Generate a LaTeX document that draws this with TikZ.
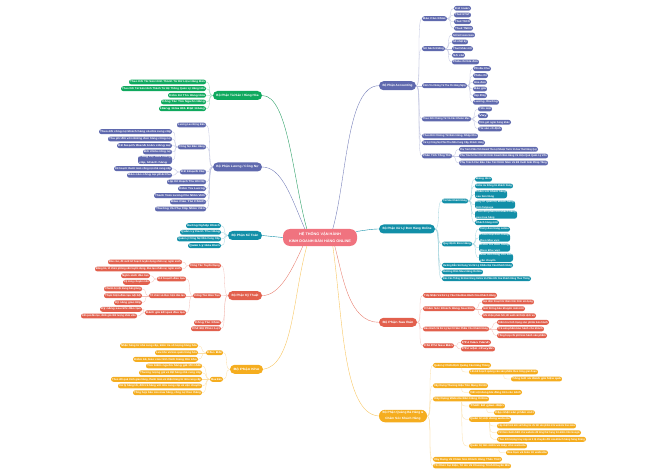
\documentclass[tikz,border=0pt]{standalone}
\usepackage{fontspec}
\usepackage{graphicx}
\setmainfont{Liberation Sans}
\usetikzlibrary{calc}
\definecolor{cG}{HTML}{0FA95E}
\definecolor{cP}{HTML}{5F69AE}
\definecolor{cT}{HTML}{128FA8}
\definecolor{cR}{HTML}{E2604D}
\definecolor{cY}{HTML}{F5AD1F}
\definecolor{cC}{HTML}{F0737F}
\tikzset{
  pillbase/.style={rectangle,rounded corners=2.4pt,inner sep=0pt,text=white,minimum height=4.9pt,font=\fontsize{2.6}{3.1}\selectfont\bfseries},
  twoline/.style={minimum height=8pt},
  rootn/.style={rounded corners=4.5pt,minimum height=9pt,font=\fontsize{3.1}{3.6}\selectfont\bfseries},
  rootb/.style={rounded corners=6pt,minimum height=12.5pt,font=\fontsize{3.1}{3.8}\selectfont\bfseries},
  nG/.style={pillbase,fill=cG},
  nP/.style={pillbase,fill=cP},
  nT/.style={pillbase,fill=cT},
  nR/.style={pillbase,fill=cR},
  nY/.style={pillbase,fill=cY},
  nC/.style={pillbase,fill=cC,rounded corners=7pt,minimum height=17pt,font=\fontsize{3.6}{4.4}\selectfont\bfseries},
  wire/.style={line width=0.3pt},
  wireG/.style={wire,draw=cG!45},
  wireP/.style={wire,draw=cP!40},
  wireT/.style={wire,draw=cT!40},
  wireR/.style={wire,draw=cR!40},
  wireY/.style={wire,draw=cY!40},
  mainwire/.style={line width=0.4pt}
}
\newcommand{\twol}[2]{\shortstack[l]{#1\\#2}}
\newcommand{\twoc}[2]{\shortstack[c]{#1\\#2}}
\newcommand{\nd}[7][2.4]{%
  \pgfmathsetmacro{\pillW}{#5-#4}%
  \pgfmathsetmacro{\pillC}{(#5+#4)/2}%
  \pgfmathsetmacro{\pillTW}{\pillW-#1}%
  \node[#3,minimum width=\pillW pt] (#2) at (\pillC,#6) {\resizebox{\pillTW pt}{\height}{#7}};}
\newcommand{\lkL}[3]{\draw[wire#3] (#1.west) .. controls +(-5.5,0) and +(5.5,0) .. (#2.east);}
\newcommand{\lkR}[3]{\draw[wire#3] (#1.east) .. controls +(5.5,0) and +(-5.5,0) .. (#2.west);}
\newcommand{\lkB}[3]{\path (#2.west) ++(-7,0) coordinate (bend);
  \draw[wire#3] (bend |- #1.south) .. controls (bend) and (bend) .. (#2.west);}
\begin{document}
\begin{tikzpicture}[x=1pt,y=-1pt]
\useasboundingbox (0,0) rectangle (670,476);
% ---- centre
\nd[12]{cen}{nC}{283}{357}{237.5}{\twoc{HỆ THỐNG VẬN HÀNH}{KINH DOANH BÁN HÀNG ONLINE}}
\coordinate (ctA) at ($(cen.north west)+(24,0)$);
\coordinate (ctB) at ($(cen.north west)+(22,0)$);
\coordinate (ctC) at ($(cen.north west)+(50,0)$);
\coordinate (cbA) at ($(cen.south west)+(20,0)$);
\coordinate (cbB) at ($(cen.south west)+(24,0)$);
\coordinate (cbC) at ($(cen.south west)+(50,0)$);
\coordinate (cbD) at ($(cen.south west)+(52,0)$);
\coordinate (crA) at ($(cen.east)+(-1,-6)$);
% ---- left roots
\nd[7]{rG}{nG,rootn}{213}{262}{95.5}{Bộ Phận Tài Sản / Hàng Hóa}
\nd[7]{rP}{nP,rootn}{213}{262}{167}{Bộ Phận Lương / Công Nợ}
\nd[7]{rT}{nT,rootn}{228}{262}{235.5}{Bộ Phận Kế Toán}
\nd[7]{rR}{nR,rootn}{228}{262}{295.6}{Bộ Phận Kỹ Thuật}
\nd[7]{rY}{nY,rootn}{230}{263}{369.3}{Bộ Phận Kho}
% ---- right roots
\nd[7]{rA}{nP,rootn}{379}{416}{85.7}{Bộ Phận Accounting}
\nd[7]{rS}{nT,rootn}{379}{435}{229}{Bộ Phận Xử Lý Đơn Hàng Online}
\nd[7]{rD}{nR,rootn}{379}{417}{322.3}{Bộ Phận Sau Bán}
\nd[7]{rM}{nY,rootb}{379}{427}{416}{\twoc{Bộ Phận Quảng Bá Hàng \&}{Chăm Sóc Khách Hàng}}
% ---- main connectors
\draw[mainwire,draw=cG!75!gray] (rG.east) .. controls +(26,0) and +(-14,-50) .. (ctA);
\draw[mainwire,draw=cP!85] (rP.east) .. controls +(20,0) and +(-13,-30) .. (ctB);
\draw[mainwire,draw=cP!85] (rA.west) .. controls +(-32,0) and +(14,-50) .. (ctC);
\draw[mainwire,draw=cT] (rT.east) -- (cen.west);
\draw[mainwire,draw=cT] (rS.west) .. controls +(-8,0) and +(8,-1) .. (crA);
\draw[mainwire,draw=cR!80] (rR.east) .. controls +(18,0) and +(-10,22) .. (cbA);
\draw[mainwire,draw=cY!70] (rY.east) .. controls +(30,-4) and +(-14,50) .. (cbB);
\draw[mainwire,draw=cY!70] (rM.west) .. controls +(-36,-2) and +(10,70) .. (cbC);
\draw[mainwire,draw=cR!80] (rD.west) .. controls +(-30,0) and +(8,30) .. (cbD);
% ---- green
\nd{g1}{nG}{129}{206}{82}{Theo Dõi Tài Sản Hình Thành Từ Dữ Liệu Hàng Bán}
\nd{g2}{nG}{121}{206}{88.7}{Theo Dõi Tài Sản Hình Thành Từ Hệ Thống Quản Lý Hàng Hóa}
\nd{g3}{nG}{168}{206}{95.3}{Kiểm Kê Tồn Hàng Hóa}
\nd{g4}{nG}{161}{206}{102}{Công Tác Tìm Nguồn Hàng}
\nd{g5}{nG}{159}{206}{108.7}{Hàng Hóa Đã Đặt Hàng}
\foreach \c in {g1,g2,g3,g4,g5}{\lkL{rG}{\c}{G}}
% ---- purple left
\nd{p1}{nP}{177}{206}{125}{Lương Lao Động Bán}
\nd{p2}{nP}{178}{206}{147}{Công Nợ Bán Hàng}
\nd{p2a}{nP}{99}{172}{131.7}{Theo dõi công nợ khách hàng và nhà cung cấp}
\nd{p2b}{nP}{108}{172}{139}{Thu phí đối với những đơn hàng công nợ}
\nd{p2c}{nP}{117}{172}{145.7}{Kế hoạch thanh toán công nợ}
\nd{p2d}{nP}{143}{172}{152}{Đối chiếu công nợ}
\nd{p2e}{nP,twoline}{138}{172}{160}{\twol{Công nợ nhà cung}{cấp, khách hàng}}
\nd{p3}{nP}{180}{206}{172}{Kế Hoạch Nợ}
\nd{p3a}{nP}{114}{172}{168.7}{Kế hoạch thanh toán công nợ nhà cung cấp}
\nd{p3b}{nP}{127}{172}{175.3}{Báo cáo công nợ phải thu}
\nd{p4}{nP}{167}{206}{182}{Lập Kế Hoạch Thu Hồi Nợ}
\nd{p5}{nP}{178}{206}{188.7}{Kiểm Tra Lương}
\nd{p6}{nP}{154}{206}{195.7}{Thanh Toán Lương Cho Nhân Viên}
\nd{p7}{nP}{170}{206}{202}{Báo Cáo Tài Chính}
\nd{p8}{nP}{155}{206}{209}{Thưởng Và Phụ Cấp Nhân Viên}
\foreach \c in {p1,p2,p3,p4,p5,p6,p7,p8}{\lkL{rP}{\c}{P}}
\foreach \c in {p2a,p2b,p2c,p2d,p2e}{\lkL{p2}{\c}{P}}
\foreach \c in {p3a,p3b}{\lkL{p3}{\c}{P}}
% ---- teal left
\nd{t1}{nT}{186}{221}{225.7}{Hướng Nghiệp Khách}
\nd{t2}{nT}{180}{221}{232.3}{Quản Lý Danh Thu Hàng}
\nd{t3}{nT}{177}{221}{239}{Quản Lý Công Nợ Nhà Cung Cấp}
\nd{t4}{nT}{188}{221}{245.7}{Quản Lý Hóa Đơn}
\foreach \c in {t1,t2,t3,t4}{\lkL{rT}{\c}{T}}
% ---- red left
\nd{r1}{nR}{189}{221}{265.7}{Công Tác Tuyển Dụng}
\nd{r1a}{nR}{108}{182}{262}{Báo cáo, đề xuất kế hoạch tuyển dụng nhân sự, ngân sách}
\nd{r1b}{nR}{95}{182}{269}{Đăng tin, tổ chức phỏng vấn tuyển dụng, đào tạo nhân sự, ngân sách}
\nd{r2}{nR}{193}{221}{295.7}{Công Tác Đào Tạo}
\nd{r2a}{nR}{157}{186}{279}{Kế hoạch đào tạo}
\nd{r2a1}{nR}{121}{150}{275.7}{Ngân sách đào tạo}
\nd{r2a2}{nR}{123}{150}{282.3}{Kỹ năng chuyên môn}
\nd{r2b}{nR}{149}{186}{295.7}{Tổ chức và thực hiện đào tạo}
\nd{r2b1}{nR}{104}{142}{289}{Chuẩn bị nội dung bài giảng}
\nd{r2b2}{nR}{104}{142}{295.7}{Thực hiện đào tạo nội bộ}
\nd{r2b3}{nR}{114}{142}{302.7}{Kỹ năng giao tiếp}
\nd{r2c}{nR}{145}{186}{312.7}{Đánh giá kết quả đào tạo}
\nd{r2c1}{nR}{100}{142}{309.3}{Kỹ năng sau khi đào tạo}
\nd{r2c2}{nR}{81}{137}{316}{Kết quả đào tạo, đánh giá chất lượng nhân viên}
\nd{r3}{nR}{194}{221}{322.7}{Công Tác Khác}
\nd{r4}{nR}{191}{221}{328.7}{Chế Độ Phúc Lợi}
\foreach \c in {r1,r2,r3,r4}{\lkL{rR}{\c}{R}}
\foreach \c in {r1a,r1b}{\lkL{r1}{\c}{R}}
\foreach \c in {r2a,r2b,r2c}{\lkL{r2}{\c}{R}}
\foreach \c in {r2a1,r2a2}{\lkL{r2a}{\c}{R}}
\foreach \c in {r2b1,r2b2,r2b3}{\lkL{r2b}{\c}{R}}
\foreach \c in {r2c1,r2c2}{\lkL{r2c}{\c}{R}}
% ---- yellow left
\nd{y1}{nY}{206}{223}{352.7}{Kho Bãi}
\nd{y1a}{nY}{120}{198}{345.7}{Nhận hàng từ nhà cung cấp, kiểm tra số lượng hàng hóa}
\nd{y1b}{nY}{155}{198}{352.7}{Lưu kho và bảo quản hàng hóa}
\nd{y1c}{nY}{133}{198}{359.3}{Kiểm kê, báo cáo tình hình hàng tồn kho}
\nd{y2}{nY}{210}{223}{379.3}{Mua Bán}
\nd{y2a}{nY}{146}{202}{366}{Tìm kiếm nguồn hàng giá tốt nhất}
\nd{y2b}{nY}{139}{202}{372.7}{Thương lượng giá và đặt hàng nhà cung cấp}
\nd{y2c}{nY}{111}{202}{379.3}{Theo dõi quá trình giao hàng, thanh toán và nhận hàng từ nhà cung cấp}
\nd{y2d}{nY}{118}{202}{386}{Xử lý hàng lỗi, đổi trả hàng với nhà cung cấp và vận chuyển}
\nd{y2e}{nY}{133}{202}{392.7}{Tổng hợp báo cáo mua hàng, công nợ theo tháng}
\foreach \c in {y1,y2}{\lkL{rY}{\c}{Y}}
\foreach \c in {y1a,y1b,y1c}{\lkL{y1}{\c}{Y}}
\foreach \c in {y2a,y2b,y2c,y2d,y2e}{\lkL{y2}{\c}{Y}}
% ---- accounting
\nd{a1}{nP}{422}{447}{18.7}{Báo Cáo Khác}
\nd{a1a}{nP}{454}{471}{8.3}{Kế toán}
\nd{a1b}{nP}{454}{471}{15}{Thuế GTGT}
\nd{a1c}{nP}{454}{471}{21.7}{Thuế TNCN}
\nd{a1d}{nP}{454}{473}{28.3}{Thuế TNDN}
\nd{a2}{nP}{422}{445}{48.7}{Sổ Sách Riêng}
\nd{a2a}{nP}{452}{475}{35}{Sổ kế toán bán}
\nd{a2b}{nP}{452}{468}{42}{Sổ nhật ký}
\nd{a2c}{nP}{452}{473}{48.7}{Thuế khác nội}
\nd{a2d}{nP}{452}{465}{55.3}{Sổ cái}
\nd{a2e}{nP}{452}{479}{62}{Phiếu chi hóa đơn}
\nd{a3}{nP}{422}{467}{85.7}{Kiểm Tra Chứng Từ Thu Chi Hàng Ngày}
\nd{a3a}{nP}{473}{491}{68.7}{Phiếu thu}
\nd{a3b}{nP}{473}{488}{75.7}{Phiếu chi}
\nd{a3c}{nP}{473}{487}{82.3}{Hóa đơn}
\nd{a3d}{nP}{473}{487}{89}{Báo giá}
\nd{a3e}{nP}{473}{487}{95.7}{Hợp đồng}
\nd{a3f}{nP}{473}{499}{102.3}{Lương, thưởng}
\nd{a4}{nP}{422}{471}{119}{Theo Dõi Chứng Từ Và Các Khoản Mục}
\nd{a4a}{nP}{478}{492}{109}{Tiền mặt}
\nd{a4b}{nP}{478}{488}{115.7}{Vay}
\nd{a4c}{nP}{478}{511}{122.3}{Tiền gửi ngân hàng khác}
\nd{a4d}{nP}{478}{502}{129}{Tài sản cố định}
\nd{a5}{nP}{422}{478}{136}{Theo Dõi Chứng Từ Bán Hàng, Nhập Kho}
\nd{a6}{nP}{422}{485}{142.7}{Xử Lý Công Nợ Phải Thu Nhà Cung Cấp, Khách Hàng}
\nd{a7}{nP}{422}{452}{156}{Phân Tích Tổng Thể}
\nd{a7a}{nP}{459}{538}{149.3}{Phụ Trách Phân Tích Doanh Thu Lợi Nhuận Trước Và Sau Thuế Hàng Quý}
\nd{a7b}{nP}{459}{548}{156}{Phụ Trách Các Chỉ Số Kinh Doanh Bán Hàng Và Hiệu Quả Quản Lý Vốn}
\nd{a7c}{nP}{459}{548}{163}{Phụ Trách Các Báo Cáo Tài Chính Năm Và Đề Xuất Giải Pháp Tăng}
\foreach \c in {a1,a2,a3,a4,a5,a6,a7}{\lkR{rA}{\c}{P}}
\foreach \c in {a1a,a1b,a1c,a1d}{\lkR{a1}{\c}{P}}
\foreach \c in {a2a,a2b,a2c,a2d,a2e}{\lkR{a2}{\c}{P}}
\foreach \c in {a3a,a3b,a3c,a3d,a3e,a3f}{\lkR{a3}{\c}{P}}
\foreach \c in {a4a,a4b,a4c,a4d}{\lkR{a4}{\c}{P}}
\foreach \c in {a7a,a7b,a7c}{\lkR{a7}{\c}{P}}
% ---- order handling
\nd{s1}{nT}{442}{468}{201}{Tài Sản Khách Hàng}
\nd{s1a}{nT}{475}{492}{179.3}{Đăng đơn}
\nd{s1b}{nT}{475}{513}{186}{Kiểm tra thông tin khách hàng}
\nd{s1c}{nT,twoline}{475}{507}{194.3}{\twol{Chăm sóc khách hàng}{sau bán hàng}}
\nd{s1d}{nT,twoline}{475}{515}{204.7}{\twol{Duy trì quan hệ khách hàng}{trên fanpage}}
\nd{s1e}{nT,twoline}{475}{517}{214.7}{\twol{Theo dõi phản hồi khách hàng}{sau mua hàng}}
\nd{s1f}{nT}{475}{499}{222.7}{Khách hàng mới}
\nd{s2}{nT}{442}{472}{244}{Quy Định Đơn Hàng}
\nd{s2a}{nT}{479}{510}{229.3}{Xử lý đơn hàng online}
\nd{s2b}{nT,twoline}{479}{510}{237.7}{\twol{Phân loại đơn hàng}{theo khu vực}}
\nd{s2c}{nT,twoline}{479}{510}{247.7}{\twol{Kiểm tra đơn hàng}{theo khu vực}}
\nd{s2d}{nT,twoline}{479}{513}{257.7}{\twol{Giao đơn hàng cho bên}{vận chuyển}}
\nd{s3}{nT}{442}{513}{265.3}{Hướng Dẫn Sử Dụng Và Xử Lý Khiếu Nại Của Khách Hàng}
\nd{s4}{nT}{442}{483}{272}{Hướng Dẫn Mua Hàng Online}
\nd{s5}{nT}{442}{531}{278.7}{Báo Cáo Thống Kê Đơn Hàng Online Và Phản Hồi Của Khách Hàng Theo Tháng}
\foreach \c in {s1,s2,s3,s4,s5}{\lkR{rS}{\c}{T}}
\foreach \c in {s1a,s1b,s1c,s1d,s1e,s1f}{\lkR{s1}{\c}{T}}
\foreach \c in {s2a,s2b,s2c,s2d}{\lkR{s2}{\c}{T}}
% ---- after sales
\nd{d1}{nR}{423}{497}{295.3}{Tiếp Nhận Và Xử Lý Yêu Cầu Bảo Hành Của Khách Hàng}
\nd{d2}{nR}{423}{475}{308.7}{Chăm Sóc Khách Hàng Sau Bán}
\nd{d2a}{nR}{482}{534}{302}{Gọi điện thoại hỏi thăm tình hình sử dụng}
\nd{d2b}{nR}{482}{525}{308.7}{Gửi thông báo khuyến mãi mới}
\nd{d2c}{nR}{482}{536}{315.7}{Ghi nhận phản hồi, đề xuất cải thiện dịch vụ}
\nd{d3}{nR}{423}{489}{329}{Bảo Hành Và Xử Lý Sự Cố Sản Phẩm Cho Khách Hàng}
\nd{d3a}{nR}{497}{549}{322.3}{Kiểm tra tình trạng sản phẩm bảo hành}
\nd{d3b}{nR}{497}{544}{329}{Trả sản phẩm bảo hành cho khách}
\nd{d3c}{nR}{497}{547}{335.7}{Tổng hợp chi phí bảo hành sản phẩm}
\nd{d4}{nR}{423}{454}{345.7}{Chi Phí Sau Bán}
\nd{d4a}{nR}{461}{491}{342.3}{Phí bảo hành}
\nd{d4b}{nR}{461}{495}{349}{Phí vận chuyển}
\foreach \c in {d1,d2,d3,d4}{\lkR{rD}{\c}{R}}
\foreach \c in {d2a,d2b,d2c}{\lkR{d2}{\c}{R}}
\foreach \c in {d3a,d3b,d3c}{\lkR{d3}{\c}{R}}
\foreach \c in {d4a,d4b}{\lkR{d4}{\c}{R}}
% ---- marketing
\nd{m1}{nY}{433}{491}{365.3}{Quản Lý Chiến Dịch Quảng Cáo Hàng Tháng}
\nd{m1a}{nY}{469}{538}{372}{Lên kế hoạch quảng cáo sản phẩm theo từng giai đoạn}
\nd{m1b}{nY}{511}{562}{379}{Tổng kết và đánh giá hiệu quả}
\nd{m2}{nY}{433}{488}{385.7}{Xây Dựng Thương Hiệu Trên Mạng Xã Hội}
\nd{m2a}{nY}{469}{522}{392.3}{Viết nội dung bài đăng trên các kênh}
\nd{m3}{nY}{433}{489}{399}{Xây Dựng Website Bán Hàng Online}
\nd{m3a}{nY}{469}{505}{406}{Thiết kế giao diện}
\nd{m3b}{nY}{494}{535}{412.7}{Cập nhật sản phẩm mới}
\nd{m3c}{nY}{469}{511}{419.3}{Quản trị nội dung website}
\nd{m3c1}{nY}{497}{576}{426}{Cập nhật hình ảnh và thông tin chi tiết sản phẩm trên website theo mùa}
\nd{m3c2}{nY}{497}{581}{432.7}{Viết bài chuẩn SEO cho website để tăng thứ hạng tìm kiếm trên Google}
\nd{m3c3}{nY}{497}{586}{439.3}{Theo dõi lượng truy cập và tỉ lệ chuyển đổi của khách hàng hàng tháng}
\nd{m3d}{nY}{469}{527}{446}{Quản trị tên miền và máy chủ website}
\nd{m3d1}{nY}{506}{548}{452.7}{Gia hạn và bảo trì website}
\nd{m4}{nY}{433}{502}{459.3}{Xây Dựng Và Chăm Sóc Khách Hàng Thân Thiết}
\nd{m5}{nY}{433}{511}{466}{Tổ Chức Sự Kiện, Tri Ân Và Chương Trình Khuyến Mãi}
\foreach \c in {m1,m2,m3,m4,m5}{\lkR{rM}{\c}{Y}}
\lkB{m1}{m1a}{Y}
\lkB{m1a}{m1b}{Y}
\lkB{m2}{m2a}{Y}
\lkB{m3}{m3a}{Y}
\lkB{m3}{m3c}{Y}
\lkB{m3}{m3d}{Y}
\lkB{m3a}{m3b}{Y}
\lkB{m3c}{m3c1}{Y}
\lkB{m3c}{m3c2}{Y}
\lkB{m3c}{m3c3}{Y}
\lkB{m3d}{m3d1}{Y}
\end{tikzpicture}
\end{document}
